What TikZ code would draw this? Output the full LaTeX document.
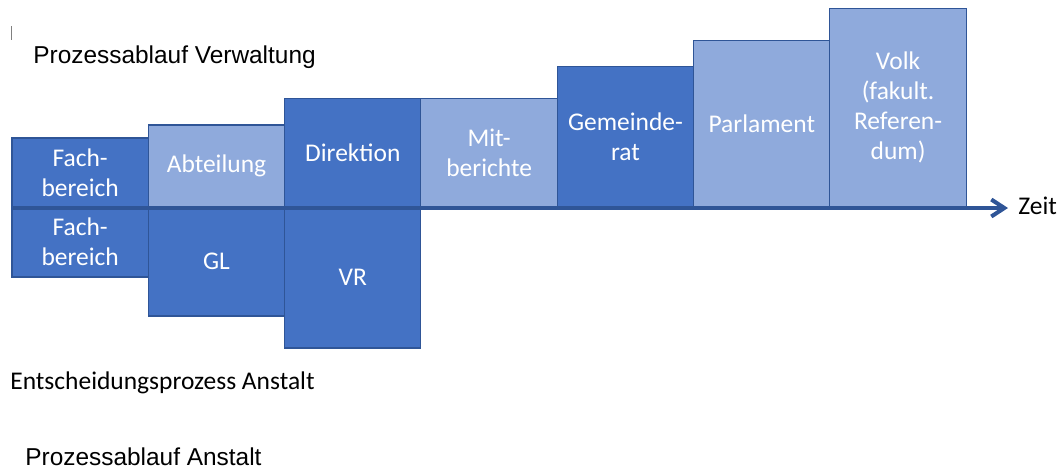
\documentclass[tikz,border=0pt]{standalone}
\usepackage{fontspec}
\setmainfont{Carlito}
\newfontfamily\arialfont{Liberation Sans}
\usetikzlibrary{positioning, arrows.meta}

\definecolor{darkblue}{HTML}{4472C4}
\definecolor{lightblue}{HTML}{8FAADC}
\definecolor{edgeblue}{HTML}{2F5597}

\begin{document}
\begin{tikzpicture}[x=0.02cm, y=-0.02cm]
      \tikzstyle{box}=[draw=edgeblue, line width=0.6pt, outer sep=0pt, inner sep=0pt,
        minimum width=2.727cm, text=white, align=center,
        font=\fontsize{14.5}{17.2}\selectfont]
      \tikzstyle{dark}=[box, fill=darkblue]
      \tikzstyle{light}=[box, fill=lightblue]
      \tikzstyle{caption}=[anchor=base west, inner sep=0pt,
        font=\fontsize{14.5}{17.2}\selectfont]

      \useasboundingbox (0,0) rectangle (1063,468);

      % Upper row (Verwaltung), each box standing on the time axis.
      \node[dark, minimum height=1.38cm, anchor=south west]
        (v_1) at (12,207)          % v_1 is the first box, bottom left.
        {Fach-\\bereich};
      \node[light, minimum height=1.64cm, anchor=south west]
        (v_2) at (v_1.south east)
        {Abteilung};
      \node[dark, minimum height=2.18cm, anchor=south west]
        (v_3) at (v_2.south east)
        {Direktion};
      \node[light, minimum height=2.18cm, anchor=south west]
        (v_4) at (v_3.south east)
        {Mit-\\berichte};
      \node[dark, minimum height=2.82cm, anchor=south west]
        (v_5) at (v_4.south east)
        {Gemeinde-\\rat};
      \node[light, minimum height=3.34cm, anchor=south west]
        (v_6) at (v_5.south east)
        {Parlament};
      \node[light, minimum height=3.98cm, anchor=south west]
        (v_7) at (v_6.south east)
        {Volk\\(fakult.\\Referen-\\dum)};

      % Lower row (Anstalt), hanging below the time axis.
      \node[dark, minimum height=1.40cm, anchor=north west]
        (a_1) at (v_1.south west)
        {Fach-\\bereich};
      \node[dark, minimum height=2.18cm, anchor=north west]
        (a_2) at (a_1.north east)
        {GL};
      \node[dark, minimum height=2.82cm, anchor=north west]
        (a_3) at (a_2.north east)
        {VR};

      % Titles and the time axis.
      \node[caption, font=\arialfont\fontsize{13.9}{16.4}\selectfont]
        (t_verw) at (33,63) {Prozessablauf Verwaltung};
      \node[caption]
        (t_ents) at (10,389) {Entscheidungsprozess Anstalt};
      \node[caption, font=\arialfont\fontsize{13.9}{16.4}\selectfont]
        (t_anst) at (25,465) {Prozessablauf Anstalt};
      \node[caption]
        (zeit) at (1018,214) {Zeit};

      \coordinate (t_0) at (12,208);
      \coordinate (t_1) at (1008,208);
      \draw[edgeblue, line width=2.3pt,
        -{Straight Barb[length=0.26cm, width=0.34cm]}] (t_0) -- (t_1);

      % the little mark at the top left
      \draw[gray, line width=0.5pt] (11,26) -- (11,40);
    \end{tikzpicture}
\end{document}
